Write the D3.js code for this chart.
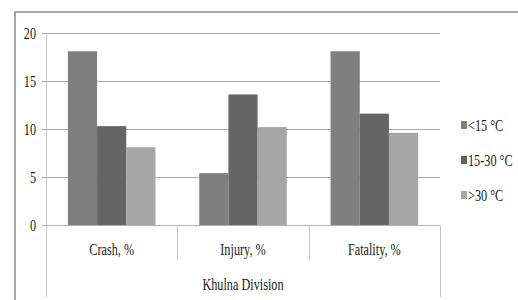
<!DOCTYPE html>
<html>
<head>
<meta charset="utf-8">
<script src="https://cdn.jsdelivr.net/npm/d3@7"></script>
<style>
  body { margin: 0; background: #fff; }
</style>
</head>
<body>
<script>
var categories = ["Crash, %", "Injury, %", "Fatality, %"];
var seriesNames = ["<15 °C", "15-30 °C", ">30 °C"];
var below15 = [18.1, 5.4, 18.1];
var mid15to30 = [10.3, 13.6, 11.6];
var above30 = [8.1, 10.2, 9.6];
var yTicks = [0, 5, 10, 15, 20];
var groupLabel = "Khulna Division";
var colors = ["#7f7f7f", "#656565", "#a6a6a6"];

var seriesValues = [below15, mid15to30, above30];
var sx = 0.72; // the source text is squeezed horizontally

var svg = d3.select("body").append("svg")
    .attr("width", 518)
    .attr("height", 300)
    .attr("font-family", "'Liberation Serif', 'DejaVu Serif', serif")
    .attr("fill", "#222");

// outer frame (top and left edges only are visible)
svg.append("path")
    .attr("d", "M15,300 V12 H518")
    .attr("fill", "none")
    .attr("stroke", "#8a8a8a")
    .attr("stroke-width", 1.5);

var x0 = d3.scaleBand().domain(categories).range([46, 440]);
var x1 = d3.scaleBand().domain(seriesNames).range([0, x0.bandwidth()]).paddingOuter(0.75);
var y = d3.scaleLinear().domain([0, 20]).range([225, 33]);

// gridlines
svg.append("g").selectAll("line").data(yTicks).enter().append("line")
    .attr("x1", 42).attr("x2", 440)
    .attr("y1", function (d) { return y(d) + 0.5; })
    .attr("y2", function (d) { return y(d) + 0.5; })
    .attr("stroke", function (d) { return d === 0 ? "#b0b0b0" : "#a8a8a8"; })
    .attr("stroke-width", 1);

// y axis line, extends through label area
svg.append("line")
    .attr("x1", 46.5).attr("x2", 46.5)
    .attr("y1", y(20)).attr("y2", 297)
    .attr("stroke", "#c4c4c4");

// category dividers
var dividers = [x0(categories[1]), x0(categories[2])];
svg.append("g").selectAll("line").data(dividers).enter().append("line")
    .attr("x1", function (d) { return Math.round(d) + 0.5; })
    .attr("x2", function (d) { return Math.round(d) + 0.5; })
    .attr("y1", y(0)).attr("y2", 260)
    .attr("stroke", "#c4c4c4");
svg.append("line")
    .attr("x1", 440.5).attr("x2", 440.5)
    .attr("y1", y(0)).attr("y2", 297)
    .attr("stroke", "#c4c4c4");

// bars
var groups = svg.append("g").selectAll("g").data(categories).enter().append("g")
    .attr("transform", function (d) { return "translate(" + x0(d) + ",0)"; });

groups.selectAll("rect")
    .data(function (d, i) {
        return seriesNames.map(function (s, j) { return { s: s, j: j, v: seriesValues[j][i] }; });
    })
    .enter().append("rect")
    .attr("x", function (d) { return x1(d.s); })
    .attr("width", x1.bandwidth())
    .attr("y", function (d) { return y(d.v); })
    .attr("height", function (d) { return y(0) - y(d.v); })
    .attr("fill", function (d) { return colors[d.j]; });

// y tick labels
svg.append("g").selectAll("text").data(yTicks).enter().append("text")
    .attr("transform", function (d) { return "translate(36," + (y(d) + 6) + ") scale(" + sx + ",1)"; })
    .attr("text-anchor", "end")
    .attr("font-size", 17)
    .text(function (d) { return d; });

// category labels
svg.append("g").selectAll("text").data(categories).enter().append("text")
    .attr("transform", function (d) {
        return "translate(" + (x0(d) + x0.bandwidth() / 2) + ",255) scale(" + sx + ",1)";
    })
    .attr("text-anchor", "middle")
    .attr("font-size", 17)
    .text(function (d) { return d; });

svg.append("text")
    .attr("transform", "translate(243,290) scale(" + sx + ",1)")
    .attr("text-anchor", "middle")
    .attr("font-size", 17)
    .text(groupLabel);

// legend
var legend = svg.append("g").selectAll("g").data(seriesNames).enter().append("g")
    .attr("transform", function (d, i) { return "translate(461," + (125 + i * 35) + ")"; });

legend.append("rect")
    .attr("x", 0).attr("y", -4)
    .attr("width", 6).attr("height", 8)
    .attr("fill", function (d, i) { return colors[i]; });

legend.append("text")
    .attr("transform", "translate(7,6) scale(" + sx + ",1)")
    .attr("font-size", 17)
    .text(function (d) { return d; });
</script>
</body>
</html>
